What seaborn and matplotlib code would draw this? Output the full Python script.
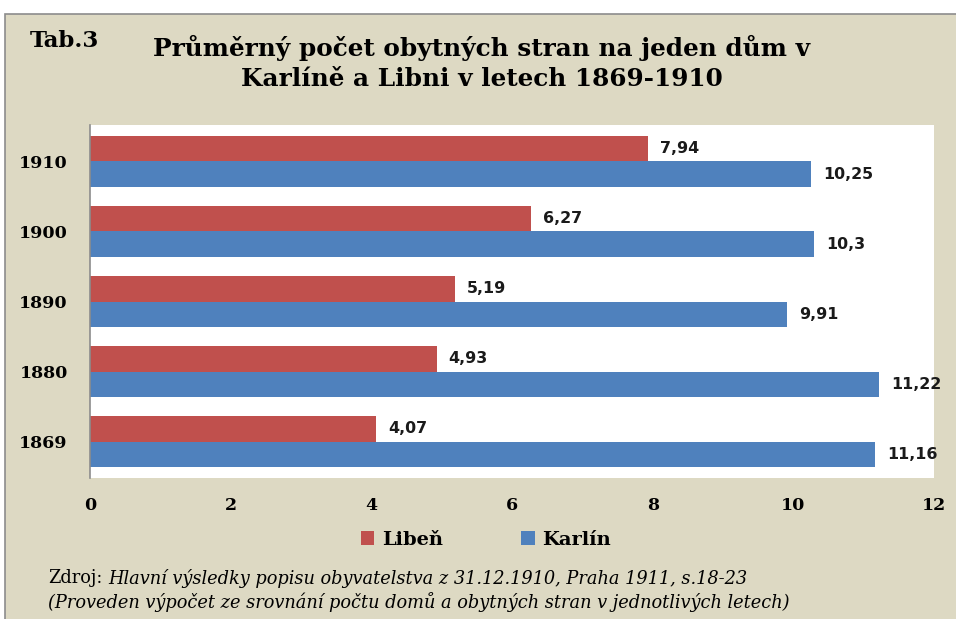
import pandas as pd
import numpy as np
import seaborn as sns
import matplotlib.pyplot as plt
from matplotlib.patches import Rectangle

# data
roky = ['1910', '1900', '1890', '1880', '1869']
liben = [7.94, 6.27, 5.19, 4.93, 4.07]
karlin = [10.25, 10.3, 9.91, 11.22, 11.16]
obce = ['Libeň', 'Karlín']
x_ticks = [0, 2, 4, 6, 8, 10, 12]

RED = '#C0504D'
BLUE = '#4F81BD'
BG = '#DDD9C3'

df = pd.DataFrame({
    'rok': roky * 2,
    'hodnota': liben + karlin,
    'obec': [obce[0]] * len(roky) + [obce[1]] * len(roky),
})

fig = plt.figure(figsize=(9.56, 6.19), dpi=100, facecolor='white')
fig.patches.append(Rectangle((5 / 956, -0.01), 1.0, 1 - 14 / 619 + 0.01,
                             transform=fig.transFigure, facecolor=BG,
                             edgecolor='#8C8C8C', linewidth=1.2, zorder=-5))

ax = fig.add_axes([90 / 956, 1 - 478 / 619, (934 - 90) / 956, (478 - 125) / 619])
ax.set_facecolor('white')

sns.barplot(data=df, y='rok', x='hodnota', hue='obec', orient='h',
            palette=[RED, BLUE], saturation=1, width=0.74, ax=ax,
            order=roky, hue_order=obce)

# value labels with decimal comma
for cont in ax.containers:
    labels = [f"{b.get_width():g}".replace('.', ',') for b in cont]
    ax.bar_label(cont, labels=labels, padding=8.5, fontsize=11.4,
                 fontweight='bold', family='DejaVu Sans', color='#1a1a1a')

ax.set_xlim(0, 12)
ax.set_ylim(4.52, -0.52)
ax.set_xticks(x_ticks)
ax.set_xticklabels([str(t) for t in x_ticks], family='DejaVu Serif',
                   fontweight='bold', fontsize=12.5)
ax.set_yticks(range(len(roky)))
ax.set_yticklabels(roky, family='DejaVu Serif', fontweight='bold', fontsize=12.5)
ax.tick_params(axis='x', length=0, pad=14)
ax.tick_params(axis='y', length=0, pad=16)
ax.set_xlabel('')
ax.set_ylabel('')
for s in ['top', 'right', 'bottom']:
    ax.spines[s].set_visible(False)
ax.spines['left'].set_color('#8C8C8C')
ax.spines['left'].set_linewidth(1.2)

handles, labels = ax.get_legend_handles_labels()
ax.legend_.remove()
fig.legend(handles, labels, loc='center', bbox_to_anchor=(486 / 956, 1 - 540 / 619),
           ncol=2, frameon=False, handlelength=0.7, handleheight=0.7,
           handletextpad=0.4, columnspacing=4.0,
           prop={'family': 'DejaVu Serif', 'weight': 'bold', 'size': 14})

fig.text(30 / 956, 1 - 41 / 619, 'Tab.3', family='DejaVu Serif', fontweight='bold',
         fontsize=16.5, va='center', ha='left')
fig.text(482 / 956, 1 - 63 / 619,
         'Průměrný počet obytných stran na jeden dům v\nKarlíně a Libni v letech 1869-1910',
         family='DejaVu Serif', fontweight='bold', fontsize=17.8, ha='center',
         va='center', linespacing=1.35)

zdroj = fig.text(48 / 956, 1 - 578 / 619, 'Zdroj:', family='DejaVu Serif',
                 fontsize=12.8, va='center', ha='left')
ax.annotate('Hlavní výsledky popisu obyvatelstva z 31.12.1910, Praha 1911, s.18-23',
            xy=(1, 0.5), xycoords=zdroj, xytext=(4, 0), textcoords='offset points',
            family='DejaVu Serif', style='italic', fontsize=12.8, va='center',
            ha='left', annotation_clip=False)
fig.text(48 / 956, 1 - 602 / 619,
         '(Proveden výpočet ze srovnání počtu domů a obytných stran v jednotlivých letech)',
         family='DejaVu Serif', style='italic', fontsize=12.8, va='center', ha='left')

fig.savefig('out.png', dpi=100, facecolor=fig.get_facecolor())
